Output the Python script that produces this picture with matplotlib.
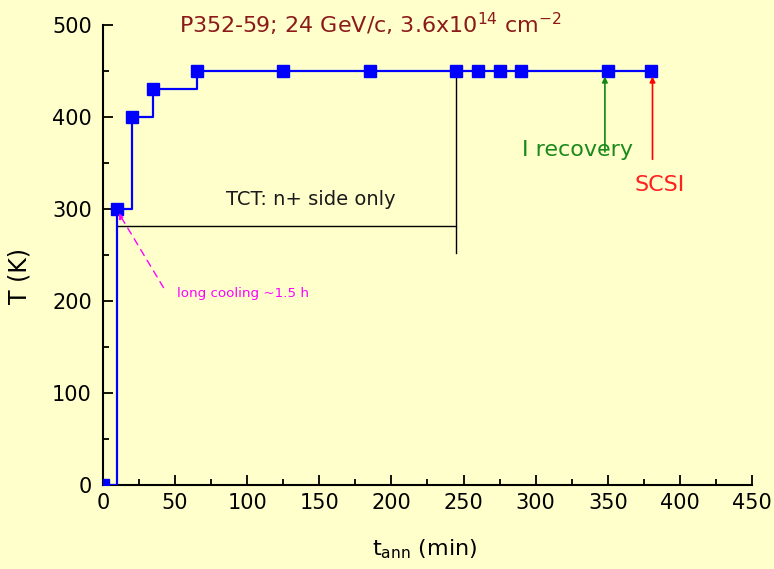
import matplotlib
matplotlib.use("Agg")
import matplotlib.pyplot as plt
from matplotlib.ticker import MultipleLocator

plt.rcParams['font.family'] = ['DejaVu Sans']
plt.rcParams['mathtext.fontset'] = 'dejavusans'

# annealing steps
t_ann = [0, 10, 20, 35, 65, 125, 185, 245, 260, 275, 290, 350, 380]
temp = [0, 300, 400, 430, 450, 450, 450, 450, 450, 450, 450, 450, 450]

# TCT bracket
tct_x = [10, 245, 245]
tct_y = [282, 282, 252]
tct_top = 450

bg = '#FFFFCC'
fig = plt.figure(figsize=(7.74, 5.69), dpi=100, facecolor=bg)
ax = fig.add_axes([0.133, 0.1476, 0.8386, 0.8084], facecolor=bg)

ax.plot(t_ann, temp, color='#0000FF', lw=1.6, drawstyle='steps-post',
        marker='s', markersize=8, zorder=3)

# black TCT lines
ax.plot(tct_x, tct_y, color='black', lw=1.0)
ax.plot([tct_x[1], tct_x[1]], [tct_top, tct_y[1]], color='black', lw=1.0)
ax.text(144, 310, 'TCT: n+ side only', fontsize=14, ha='center', va='center',
        color='#1a1a1a')

# annotations
ax.annotate('', xy=(10, 298), xytext=(43, 212),
            arrowprops=dict(arrowstyle='-|>', color='#FF00FF', lw=1.0,
                            linestyle=(0, (5, 4)), mutation_scale=8))
ax.text(51, 208, 'long cooling ~1.5 h', fontsize=9.7, color='#FF00FF',
        ha='left', va='center')

ax.annotate('', xy=(348, 447), xytext=(348, 359),
            arrowprops=dict(arrowstyle='-|>', color='#118811', lw=1.2,
                            mutation_scale=8))
ax.text(329, 364, 'I recovery', fontsize=16, color='#1a8a1a',
        ha='center', va='center')

ax.annotate('', xy=(381, 447), xytext=(381, 351),
            arrowprops=dict(arrowstyle='-|>', color='#FF0000', lw=1.2,
                            mutation_scale=8))
ax.text(386, 326, 'SCSI', fontsize=16, color='#FF2020',
        ha='center', va='center')

ax.set_xlim(0, 450)
ax.set_ylim(0, 500)
ax.xaxis.set_major_locator(MultipleLocator(50))
ax.xaxis.set_minor_locator(MultipleLocator(25))
ax.yaxis.set_major_locator(MultipleLocator(100))
ax.yaxis.set_minor_locator(MultipleLocator(50))

for s in ['top', 'right']:
    ax.spines[s].set_visible(False)
for s in ['left', 'bottom']:
    ax.spines[s].set_linewidth(1.5)

ax.tick_params(which='major', direction='in', length=7, width=1.3, labelsize=15)
ax.tick_params(which='minor', direction='in', length=4, width=1.3)
ax.tick_params(axis='x', pad=6)
ax.tick_params(axis='y', pad=8)

ax.set_xlabel(r'$\mathregular{t_{ann}}$ (min)', fontsize=16)
ax.set_ylabel('T (K)', fontsize=17)
ax.xaxis.set_label_coords(0.496, -0.113)
ax.yaxis.set_label_coords(-0.11, 0.454)

fig.text(0.478, 0.957, r'P352-59; 24 GeV/c, 3.6x10$^{\mathregular{14}}$ cm$^{\mathregular{-2}}$',
         fontsize=16, color='#8B1A1A', ha='center', va='center')

fig.savefig('out.png', dpi=100, facecolor=bg)
